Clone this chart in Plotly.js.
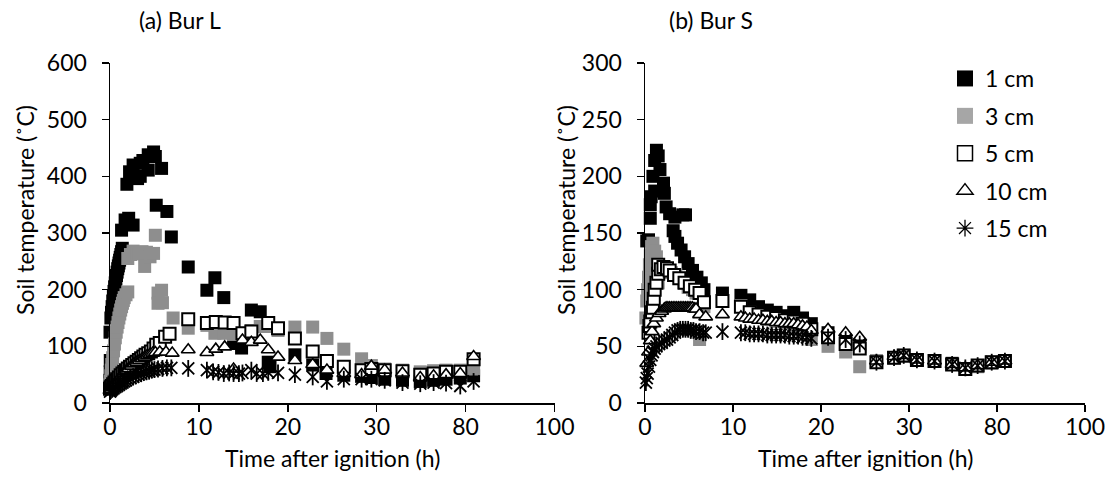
<!DOCTYPE html>
<html>
<head>
<meta charset="utf-8">
<script src="https://cdn.plot.ly/plotly-3.0.1.min.js"></script>
<style>html,body{margin:0;padding:0;background:#fff;}#chart{width:1105px;height:480px;}</style>
</head>
<body>
<div id="chart"></div>
<script>
// ---------- tick labels of the broken time axis ----------
const tickHours = [0, 10, 20, 30, 80, 100];
const tickLabels = ["0", "10", "20", "30", "80", "100"];
const seriesNames = ["1 cm", "3 cm", "5 cm", "10 cm", "15 cm"];

// ---------- (a) Bur L ----------
const burL_t1 = [0,0,0.02,0.03,0,0.1,0.17,0.24,0.31,0.38,0.45,0.52,0.59,0.66,0.73,0.8,0.87,0.94,1.01,1.08,1.15,1.22,1.3,1.38,1.3,1.7,2.1,2.6,1.9,2.2,2.6,3.1,3.4,3.4,3.7,4.3,4.3,4.9,5.1,5.8,5.2,6.4,6.9,8.8,10.9,11.8,12.8,13.9,14.8,15.9,16.9,17.8,18,20.8,22.8,24.3,26.3,28.3,29.4,34.5,44.5,54.5,62,69,77,81.8];
const burL_v1 = [28,40,55,75,125,150,160,170,180,189,197,205,212,219,225,231,237,242,247,252,257,262,267,273,305,323,326,314,386,408,420,396,423,400,428,411,438,443,435,414,349,338,293,240,199,221,186,105,97,164,161,72,64,85,67,52,49,47,45,42,40,38,40,42,44,48];

const burL_t3 = [0,0.05,0.1,0.15,0.2,0.3,0.4,0.5,0.6,0.7,0.8,0.9,1,1.1,1.2,1.3,1.4,1.5,1.6,1.8,2,2,2.3,2.6,3,3.3,3.6,3.9,4.1,4.5,4.9,5.1,5.4,5.8,5.4,5.9,7.1,8.8,10.9,11.8,12.8,13.9,15.9,16.9,17.8,18.9,20.8,22.8,24.4,26.3,28.3,29.4,34.5,44.5,54.5,62,69,77,81.8];
const burL_v3 = [30,38,48,58,68,80,92,104,115,125,134,142,150,157,164,170,176,181,186,191,196,255,262,268,265,263,267,241,266,258,264,296,194,199,176,177,150,132,137,123,123,121,128,135,135,128,134,134,114,95,78,66,60,58,55,57,58,58,60];

const burL_t5 = [0,0.1,0.2,0.35,0.5,0.65,0.8,1,1.2,1.4,1.6,1.8,2,2.25,2.5,2.75,3,3.25,3.5,3.75,4,4.3,4.6,4.9,5.2,5.6,6.2,6.7,8.8,10.9,11.9,12.9,13.9,14.9,15.9,17.8,18.9,20.8,22.8,24.4,26.3,28.3,29.4,34.5,44.5,54.5,62,69,77,81.8];
const burL_v5 = [25,28,30,33,36,39,42,45,49,52,55,58,61,64,67,70,73,76,79,82,85,88,91,96,103,106,117,122,148,141,143,142,141,123,126,141,132,114,91,74,64,58,60,58,56,50,52,55,55,77];

const burL_t10 = [0,0.1,0.25,0.4,0.55,0.7,0.9,1.1,1.3,1.5,1.7,1.9,2.1,2.4,2.7,3,3.3,3.6,3.9,4.2,4.5,4.8,5.1,5.6,6.3,7,8.8,10.9,11.9,12.9,13.9,14.9,15.9,16.9,17.8,18.9,20.8,22.8,24.4,26.3,28.3,29.4,34.5,44.5,54.5,62,69,77,81.8];
const burL_v10 = [22,24,27,30,33,36,40,44,48,52,55,58,61,65,69,72,75,78,81,84,86,88,89,90,90,88,94,89,95,99,60,111,107,111,94,81,75,68,58,52,50,65,58,53,45,48,50,52,82];

const burL_t15 = [0,0.1,0.25,0.4,0.6,0.8,1,1.2,1.4,1.6,1.8,2,2.3,2.6,2.9,3.2,3.5,3.8,4.1,4.4,4.7,5,5.4,5.9,6.4,6.9,8.8,10.9,11.6,12.2,12.8,13.4,13.9,14.5,14.9,15.9,16.5,17.2,17.8,18.9,20.8,22.8,24.4,26.3,28.3,29.4,34.5,44.5,54.5,62,69,77,81.8];
const burL_v15 = [20,22,24,26,28,30,32,34,36,38,40,42,44,46,48,50,52,54,55,56,58,59,60,61,62,62,61,58,55,54,52,53,52,52,53,58,52,52,54,53,50,46,38,42,42,42,40,36,34,36,35,30,38];

// ---------- (b) Bur S ----------
const burS_t1 = [0.2,0.4,0.6,0.6,0.7,0.9,1.1,1.1,1.3,1.5,1.7,2.1,2.2,2.4,2.8,3.4,4.3,4.6,3.2,3.4,3.7,4.1,4.5,4.9,5.4,5.9,6.4,6.7,8.8,10.9,11.9,12.9,13.9,14.9,15.9,16.9,17.9,18.9,20.8,22.8,24.4,26.3,28.3,29.4,34.5,44.5,54.5,62,69,77,81.8];
const burS_v1 = [143,144,163,175,182,200,187,214,223,218,206,194,185,173,167,164,166,166,152,147,141,135,129,123,117,111,106,100,97,95,91,85,82,80,77,80,75,70,62,55,50,37,40,42,38,37,35,30,33,36,37];

const burS_t3 = [0.1,0.2,0.3,0.4,0.5,0.6,0.75,0.9,1.1,1.3,1.5,0.6,2,2.5,3,3.5,3.9,4.4,4.9,5.4,5.8,6.2,6.7,8.8,10.9,11.9,12.9,13.9,14.9,15.9,16.9,17.9,18.9,20.8,22.8,24.4,26.3,28.3,29.4,34.5,44.5,54.5,62,69,77,81.8];
const burS_v3 = [75,90,100,111,122,130,138,141,134,129,106,108,118,116,115,113,110,106,102,100,97,56,85,90,86,80,76,74,72,70,68,64,56,50,45,32,37,40,41,38,37,34,30,32,35,37];

const burS_t5 = [0.4,0.5,0.6,0.8,0.9,1,1.1,1.3,1.5,1.5,1.8,2.1,2.5,2.8,3.3,3.9,4.5,5.1,5.7,6.2,6.7,8.8,10.9,11.9,12.9,13.9,14.9,15.9,16.9,17.9,18.9,20.8,22.8,24.4,26.3,28.3,29.4,34.5,44.5,54.5,62,69,77,81.8];
const burS_v5 = [62,68,72,80,84,92,100,106,114,122,118,120,119,117,113,110,106,103,100,97,89,90,85,80,78,76,75,73,72,70,65,58,52,48,36,40,42,38,37,34,30,33,36,37];

const burS_t10 = [0.2,0.4,0.6,0.8,1,1.3,1.6,1.9,2.2,2.4,2.6,2.8,3,3.2,3.4,3.6,3.8,4,4.2,4.4,4.6,4.8,5,5.2,5.4,5.6,5.8,6.2,6.9,8.8,10.9,11.4,11.9,12.4,12.9,13.4,13.9,14.4,14.9,15.4,15.9,16.4,16.9,17.4,17.9,18.4,18.9,20.8,22.8,24.4,26.3,28.3,29.4,34.5,44.5,54.5,62,69,77,81.8];
const burS_v10 = [35,45,55,63,70,75,79,81,83,84,84,84,84,84,84,84,84,84,84,84,84,84,84,84,84,83,83,78,76,78,76,75,74,74,73,73,72,72,71,71,70,70,70,69,68,67,64,65,62,58,37,41,42,38,37,34,31,33,36,37];

const burS_t15 = [0.1,0.2,0.3,0.45,0.6,0.75,0.9,1.1,1.3,1.6,1.9,2.2,2.5,2.8,3.1,3.4,3.7,4,4.3,4.6,4.9,5.2,5.5,5.8,6.2,6.6,6.9,8.8,10.9,11.4,11.9,12.4,12.9,13.4,13.9,14.4,14.9,15.4,15.9,16.4,16.9,17.4,17.9,18.4,18.9,20.8,22.8,24.4,26.3,28.3,29.4,34.5,44.5,54.5,62,69,77,81.8];
const burS_v15 = [18,22,26,32,38,42,45,48,50,52,53,55,56,58,60,62,64,65,65,65,65,64,64,63,63,62,62,63,62,62,61,61,61,61,60,60,60,60,60,59,59,59,58,58,57,58,56,52,36,40,42,38,37,34,31,33,36,37];

// map hours onto the broken axis (equal spacing between tick labels)
function toAxis(h) {
  let i = 0;
  while (i < tickHours.length - 2 && h > tickHours[i + 1]) i++;
  return 10 * i + 10 * (h - tickHours[i]) / (tickHours[i + 1] - tickHours[i]);
}
const mapT = arr => arr.map(toAxis);

const styles = [
  {symbol: "square", color: "#000000", line: {color: "#000000", width: 0}, size: 13},
  {symbol: "square", color: "#8e8e8e", line: {color: "#8e8e8e", width: 0}, size: 13},
  {symbol: "square", color: "#ffffff", line: {color: "#000000", width: 2}, size: 12},
  {symbol: "triangle-up", color: "#ffffff", line: {color: "#000000", width: 1.6}, size: 12},
  {symbol: "x-thin-open", color: "#000000", line: {color: "#000000", width: 1.8}, size: 12}
];
const legendStyles = [
  {symbol: "square", color: "#000000", line: {color: "#000000", width: 0}, size: 16},
  {symbol: "square", color: "#a6a6a6", line: {color: "#a6a6a6", width: 0}, size: 16},
  {symbol: "square", color: "#ffffff", line: {color: "#000000", width: 1.5}, size: 15},
  {symbol: "triangle-up", color: "#ffffff", line: {color: "#000000", width: 1.5}, size: 14},
  {symbol: "asterisk-open", color: "#000000", line: {color: "#000000", width: 1.3}, size: 14}
];

const FONT = "Lato, 'Open Sans', sans-serif";
const FS = 23;
const traces = [];
function addPanel(tArrs, vArrs, xa, ya) {
  tArrs.forEach((t, k) => {
    traces.push({
      type: "scatter", mode: "markers", x: mapT(t), y: vArrs[k],
      xaxis: xa, yaxis: ya, name: seriesNames[k], showlegend: false,
      cliponaxis: false, hoverinfo: "skip", marker: Object.assign({}, styles[k])
    });
    if (k === 4) {
      traces.push({
        type: "scatter", mode: "markers", x: mapT(t), y: vArrs[k],
        xaxis: xa, yaxis: ya, showlegend: false, cliponaxis: false, hoverinfo: "skip",
        marker: {symbol: "line-ns-open", size: 12, color: "#000", line: {color: "#000", width: 1.8}}
      });
    }
  });
}
addPanel([burL_t1, burL_t3, burL_t5, burL_t10, burL_t15], [burL_v1, burL_v3, burL_v5, burL_v10, burL_v15], "x", "y");
addPanel([burS_t1, burS_t3, burS_t5, burS_t10, burS_t15], [burS_v1, burS_v3, burS_v5, burS_v10, burS_v15], "x2", "y2");
// legend entries
seriesNames.forEach((nm, k) => {
  traces.push({type: "scatter", mode: "markers", x: [null], y: [null], xaxis: "x2", yaxis: "y2",
    name: nm, legendgroup: "g" + k, showlegend: true, hoverinfo: "skip", marker: legendStyles[k]});
});

const W = 1105, H = 480;
const axisCommon = {
  showline: true, linecolor: "#000", linewidth: 1.5, ticks: "outside", ticklen: 7,
  tickwidth: 1.5, tickcolor: "#000", showgrid: false, zeroline: false,
  tickfont: {family: FONT, size: FS, color: "#000"}
};
const xCommon = Object.assign({}, axisCommon, {range: [0, 50], tickmode: "array",
  tickvals: tickLabels.map((_, i) => i * 10), ticktext: tickLabels, ticklabeloverflow: "allow",
  ticklabelstandoff: -4});
const yCommon = Object.assign({}, axisCommon, {ticklabelstandoff: 10});
const yDom = [(H - 403) / H, (H - 63) / H];

function ann(text, xpx, ypx, opts) {
  return Object.assign({text: text, xref: "paper", yref: "paper", x: xpx / W, y: (H - ypx) / H,
    showarrow: false, font: {family: FONT, size: FS, color: "#000"}, xanchor: "center", yanchor: "middle"}, opts || {});
}

const layout = {
  width: W, height: H, autosize: false,
  margin: {l: 0, r: 0, t: 0, b: 0},
  paper_bgcolor: "#fff", plot_bgcolor: "#fff",
  showlegend: true,
  xaxis: Object.assign({}, xCommon, {domain: [110 / W, 554.5 / W], anchor: "y"}),
  yaxis: Object.assign({}, yCommon, {domain: yDom, range: [0, 600], dtick: 100, anchor: "x"}),
  xaxis2: Object.assign({}, xCommon, {domain: [645 / W, 1085 / W], anchor: "y2"}),
  yaxis2: Object.assign({}, yCommon, {domain: yDom, range: [0, 300], dtick: 50, anchor: "x2"}),
  legend: {x: 945 / W, y: (H - 57) / H, xanchor: "left", yanchor: "top", bgcolor: "rgba(0,0,0,0)",
    font: {family: FONT, size: FS, color: "#000"}, traceorder: "grouped", tracegroupgap: 4.5, itemsizing: "trace"},
  annotations: [
    ann("(a) Bur L", 137, 20, {xanchor: "left"}),
    ann("(b) Bur S", 667, 20, {xanchor: "left"}),
    ann("Soil temperature (˚C)", 25, 210, {textangle: -90}),
    ann("Soil temperature (˚C)", 566, 210, {textangle: -90}),
    ann("Time after ignition (h)", 332, 458),
    ann("Time after ignition (h)", 865, 458),
    ann("<b>Fig. 2.3</b>", 33, 473, {xanchor: "left", yanchor: "top"})
  ]
};

Plotly.newPlot("chart", traces, layout, {staticPlot: true, displayModeBar: false});
</script>
</body>
</html>
